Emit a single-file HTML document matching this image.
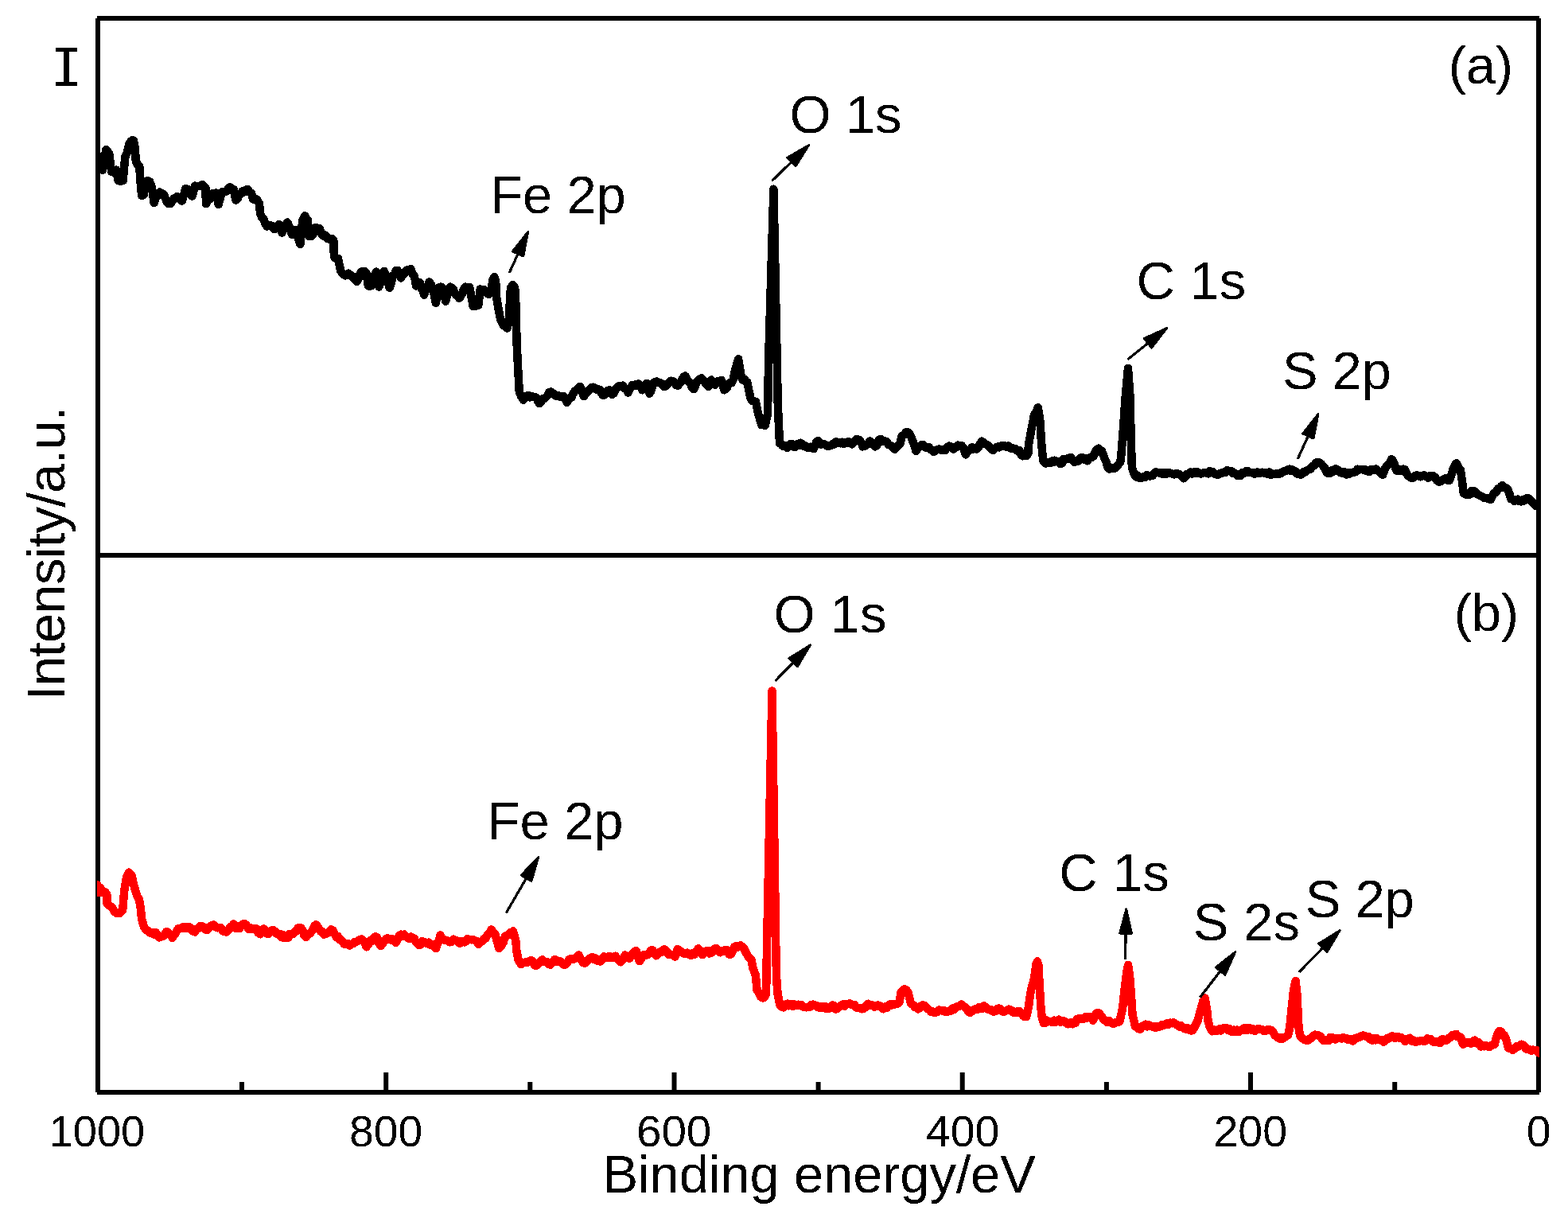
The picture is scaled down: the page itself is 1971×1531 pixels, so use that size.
<!DOCTYPE html>
<html><head><meta charset="utf-8"><title>XPS spectra</title>
<style>html,body{margin:0;padding:0;background:#fff;overflow:hidden}svg{display:block}</style>
</head><body>
<svg width="1971" height="1531" viewBox="0 0 1971 1531">
<rect width="1971" height="1531" fill="#fff"/>
<defs>
<clipPath id="ca"><rect x="122" y="20" width="1813" height="675"/></clipPath>
<clipPath id="cb"><rect x="122" y="701" width="1813" height="669"/></clipPath>
<filter id="crisp" x="0" y="0" width="1971" height="1531" filterUnits="userSpaceOnUse"><feComponentTransfer><feFuncA type="discrete" tableValues="0 1"/></feComponentTransfer></filter>
</defs>
<g fill="#000">
<rect x="120" y="23" width="6" height="1350"/>
<rect x="1931" y="23" width="6" height="1350"/>
<rect x="122" y="20" width="1813" height="6"/>
<rect x="122" y="1370" width="1813" height="6"/>
<rect x="120" y="695" width="1817" height="6"/>
<rect x="301.0" y="1360" width="6" height="12" fill="#000"/><rect x="482.2" y="1348" width="6" height="24" fill="#000"/><rect x="663.3" y="1360" width="6" height="12" fill="#000"/><rect x="844.5" y="1348" width="6" height="24" fill="#000"/><rect x="1025.6" y="1360" width="6" height="12" fill="#000"/><rect x="1206.7" y="1348" width="6" height="24" fill="#000"/><rect x="1387.9" y="1360" width="6" height="12" fill="#000"/><rect x="1569.0" y="1348" width="6" height="24" fill="#000"/><rect x="1750.2" y="1360" width="6" height="12" fill="#000"/>
</g>
<g fill="none" stroke-width="10.5" stroke-linejoin="round" stroke-linecap="round" shape-rendering="crispEdges">
<polyline clip-path="url(#ca)" stroke="#000" points="118.0,196.8 120.3,195.8 122.7,197.0 125.0,196.8 129.0,213.6 133.4,188.1 135.4,190.3 137.3,193.5 140.1,215.8 143.5,216.9 146.3,213.6 148.5,227.0 150.5,227.4 152.6,227.5 154.6,227.0 157.4,196.8 159.6,192.4 162.4,181.2 164.3,178.0 166.2,176.3 168.0,176.7 169.7,185.7 170.8,202.4 173.0,207.1 175.3,209.1 176.4,227.0 178.1,245.9 180.9,244.8 183.1,228.1 185.6,227.1 188.1,228.1 190.9,235.9 193.7,254.9 195.6,248.8 197.6,244.8 200.9,241.5 203.2,244.6 205.4,243.7 207.6,248.6 209.9,253.8 212.1,256.2 214.3,256.0 216.6,252.5 218.8,249.3 220.7,249.5 222.5,247.2 224.4,248.2 226.6,251.0 228.9,252.6 233.3,237.0 236.7,238.1 239.2,243.8 241.7,246.5 245.0,233.7 247.3,234.0 249.5,234.2 252.0,234.1 254.5,232.0 256.5,234.6 258.4,235.9 259.0,256.0 261.2,251.5 263.5,250.4 265.7,247.8 267.9,243.2 269.8,243.5 271.6,242.4 273.5,243.2 274.6,257.1 278.0,244.8 280.2,241.0 282.4,240.9 284.7,240.5 286.9,237.1 289.1,235.3 291.4,237.6 293.6,238.1 296.4,251.5 298.6,249.7 300.8,244.8 302.8,243.5 304.8,240.4 307.0,241.3 309.2,238.5 311.4,238.1 313.7,241.6 315.9,242.6 318.1,250.4 320.4,250.2 322.6,250.4 326.0,256.0 327.1,268.3 329.1,273.2 331.2,274.6 333.4,281.1 335.6,284.6 337.5,283.0 339.3,283.2 341.2,284.6 343.1,284.3 344.9,288.0 346.8,286.9 348.7,284.1 350.7,281.9 352.6,287.7 354.6,292.5 356.8,287.4 359.1,283.9 361.3,279.6 364.6,286.9 366.9,294.7 369.1,291.4 371.3,289.1 373.4,294.5 375.4,301.4 377.5,307.0 380.3,276.8 383.1,271.3 385.0,274.4 387.0,276.8 388.1,296.9 391.4,296.9 393.3,294.8 395.2,290.2 397.0,285.8 399.2,288.0 401.5,286.9 404.8,294.7 407.1,296.7 409.3,295.8 411.5,300.0 413.8,300.3 415.6,301.7 417.5,300.4 419.3,302.5 419.9,322.6 422.4,325.2 424.9,324.8 428.3,340.5 431.6,344.9 433.9,346.4 436.1,345.8 438.3,343.8 440.5,345.8 442.8,347.2 444.6,350.2 446.5,350.5 448.4,353.9 450.2,351.1 452.1,346.0 453.9,341.6 456.2,341.5 458.4,341.3 460.6,343.8 462.9,359.4 464.7,359.7 466.6,359.2 468.5,356.1 470.7,347.2 472.9,341.6 476.3,360.5 478.5,355.2 480.7,347.2 483.0,341.0 485.2,346.5 487.4,354.0 489.7,361.7 491.9,354.9 494.1,346.0 496.0,345.5 497.8,340.1 499.7,339.9 501.9,345.1 504.2,349.4 506.0,344.8 507.9,344.7 509.8,341.0 512.0,339.4 514.2,340.7 516.4,338.2 518.7,344.6 520.9,347.2 523.1,359.4 525.4,357.2 527.6,355.0 529.5,362.2 531.3,364.6 533.2,370.6 535.3,363.6 537.4,360.3 539.5,354.6 542.0,357.8 544.5,364.6 547.9,380.8 551.8,361.3 554.3,360.6 556.8,362.4 560.1,378.6 562.0,372.3 563.9,367.1 565.7,360.7 567.6,361.4 569.4,363.0 571.3,366.9 573.2,371.0 575.0,371.3 576.9,374.7 578.8,373.0 580.8,369.3 582.7,363.7 584.7,360.7 586.6,360.8 588.4,361.2 590.3,361.3 594.7,384.7 597.0,384.9 599.2,384.4 601.4,383.6 603.7,363.5 605.9,364.0 608.1,364.1 610.4,367.1 612.6,369.1 614.8,369.8 617.1,366.9 619.5,352.0 621.4,348.2 623.2,354.0 624.0,373.0 626.3,387.0 629.0,401.0 631.0,405.0 633.0,409.0 635.3,410.5 637.5,412.5 640.3,400.0 640.9,377.0 642.0,362.0 644.6,358.0 647.2,362.0 647.8,374.0 648.7,386.0 649.5,430.0 651.2,463.5 652.8,492.5 655.3,498.4 657.9,502.6 659.9,499.6 662.0,498.0 664.0,497.0 666.1,499.4 668.2,498.2 670.3,498.8 672.4,499.2 674.2,499.9 676.1,504.1 678.0,507.0 679.8,505.5 681.7,501.4 683.5,501.4 685.8,499.7 688.0,497.5 690.2,493.0 692.5,492.5 694.4,494.4 696.4,495.2 698.3,497.4 700.3,498.1 702.2,497.5 704.2,498.9 706.1,499.0 708.1,498.1 710.3,500.1 712.6,505.9 714.5,501.4 716.5,501.0 718.4,499.4 720.4,494.7 722.6,491.5 724.8,490.1 727.1,488.4 729.3,485.8 731.5,491.2 733.8,498.1 735.8,495.3 737.8,492.9 739.8,490.9 741.8,489.5 743.8,486.9 745.8,486.7 747.7,487.6 749.7,489.7 751.6,489.2 753.9,489.9 756.1,494.6 758.3,497.0 760.3,496.2 762.2,492.9 764.2,490.8 766.1,490.3 769.5,495.9 771.7,494.1 773.9,488.9 776.2,486.9 778.4,484.9 780.6,485.2 782.9,484.7 785.1,488.5 787.3,489.1 789.6,493.6 791.4,489.7 793.3,486.6 795.1,484.1 797.1,485.1 799.1,483.1 801.0,484.3 803.0,482.5 805.2,485.0 807.4,490.3 809.3,486.8 811.1,485.3 813.0,481.9 816.4,494.7 818.2,491.6 820.1,485.2 821.9,480.8 823.9,479.8 825.8,479.5 827.8,481.3 829.8,481.3 832.0,482.3 834.2,485.8 836.4,485.4 838.7,483.8 840.9,480.8 843.1,478.7 845.4,479.1 847.6,480.1 849.8,484.1 852.1,484.7 854.0,482.4 856.0,480.2 858.0,475.6 859.9,473.4 861.2,472.5 864.5,479.2 866.5,480.2 868.4,483.3 870.4,487.9 872.3,489.2 875.7,480.3 877.7,477.7 879.8,476.3 881.8,475.3 883.8,477.4 885.7,480.3 888.0,482.7 890.2,485.9 892.1,481.3 894.1,477.5 896.6,482.2 899.1,483.6 901.1,480.9 903.0,478.9 905.0,481.2 906.9,478.0 910.3,490.3 912.1,489.2 914.0,487.1 915.9,482.5 917.7,480.8 919.6,481.3 921.4,478.0 923.7,466.9 928.1,451.3 932.0,474.7 933.9,477.8 935.7,476.4 937.5,479.9 939.3,480.3 941.5,491.4 943.8,501.5 945.8,503.9 947.9,504.4 949.9,504.8 952.7,518.2 954.9,526.1 957.2,533.9 959.4,533.6 961.6,535.0 965.0,520.5 966.1,453.5 972.4,237.7 976.7,453.5 977.8,509.3 980.0,557.3 982.0,558.3 983.9,560.6 985.8,560.3 987.7,560.4 989.5,562.9 991.8,560.7 994.0,557.8 995.8,558.3 997.7,561.7 999.6,561.8 1001.8,558.3 1004.0,560.0 1006.3,556.7 1008.5,558.8 1010.7,561.0 1013.0,560.6 1014.8,562.6 1016.7,563.0 1018.5,561.8 1020.8,563.2 1023.0,564.0 1026.4,555.1 1028.6,554.2 1030.8,558.3 1033.1,558.4 1035.3,557.8 1037.5,559.1 1039.8,560.6 1041.6,560.9 1043.5,560.0 1045.3,559.5 1047.2,557.7 1049.1,558.3 1050.9,555.1 1052.8,556.3 1054.6,555.9 1056.5,557.3 1058.5,555.9 1060.6,557.9 1062.6,555.9 1064.7,556.7 1066.7,555.2 1068.9,556.2 1071.2,558.5 1073.0,555.1 1074.9,554.2 1076.7,551.8 1078.6,554.4 1080.5,553.1 1082.3,555.7 1084.6,561.3 1086.8,560.8 1089.0,559.6 1091.3,557.5 1093.5,554.6 1096.8,558.0 1100.2,561.3 1102.4,559.4 1104.6,553.0 1106.9,551.8 1108.7,553.3 1110.6,555.1 1112.5,554.6 1114.7,555.0 1116.9,559.1 1118.9,559.5 1120.8,560.9 1122.8,563.4 1124.7,564.6 1127.0,562.1 1129.2,560.1 1131.4,558.0 1133.7,547.9 1136.2,546.8 1138.7,543.4 1140.7,542.9 1142.8,544.6 1144.8,547.9 1148.2,556.8 1151.5,566.9 1153.8,563.4 1156.0,561.5 1158.2,559.3 1160.5,559.1 1162.3,562.1 1164.2,562.7 1166.0,562.4 1168.0,562.2 1169.9,565.2 1171.9,565.9 1173.9,568.0 1176.1,566.1 1178.3,565.2 1180.5,564.6 1182.5,565.5 1184.5,565.6 1186.4,564.9 1188.4,565.8 1190.6,562.0 1192.8,560.7 1194.7,561.4 1196.5,561.8 1198.4,564.6 1200.3,563.2 1202.1,562.2 1204.0,559.6 1206.2,560.1 1208.5,559.8 1210.7,562.4 1214.0,571.3 1216.0,567.8 1217.9,566.4 1219.9,565.1 1221.8,562.4 1223.7,564.3 1225.6,563.4 1227.4,564.6 1229.7,562.5 1231.9,558.4 1234.1,554.6 1236.4,556.0 1238.6,558.0 1240.8,559.1 1243.1,561.3 1244.9,562.8 1246.8,565.1 1248.6,565.8 1252.0,562.4 1253.8,561.7 1255.7,562.4 1257.6,561.1 1259.4,559.9 1261.3,560.7 1263.1,560.2 1265.4,562.1 1267.6,560.7 1269.8,563.5 1272.1,563.5 1274.4,563.7 1276.7,564.2 1278.9,566.6 1281.2,565.9 1283.4,571.3 1285.6,573.2 1287.9,571.7 1290.1,572.9 1292.3,570.4 1292.9,559.2 1296.8,538.0 1300.1,521.3 1302.5,518.0 1304.8,512.3 1307.4,529.1 1309.1,557.0 1311.3,579.3 1314.6,582.6 1316.5,581.5 1318.4,582.1 1320.2,582.1 1322.1,579.5 1323.9,581.1 1325.8,578.7 1328.0,580.2 1330.3,580.4 1332.5,583.1 1334.7,582.6 1337.0,577.1 1339.2,577.7 1341.4,576.6 1343.7,576.3 1345.9,574.8 1348.1,578.2 1350.4,581.0 1352.2,578.8 1354.1,580.2 1355.9,579.3 1357.8,576.0 1359.7,575.3 1361.5,575.4 1363.4,577.8 1365.2,576.2 1367.1,579.3 1369.0,576.2 1370.8,574.7 1372.7,574.8 1374.9,573.0 1377.2,566.8 1379.4,564.8 1381.2,563.6 1383.1,567.6 1385.0,567.0 1388.3,575.9 1390.5,580.6 1392.8,588.2 1394.6,589.6 1396.5,588.9 1398.4,588.2 1400.2,588.8 1402.1,588.5 1403.9,586.0 1406.2,583.5 1408.4,580.4 1409.5,570.4 1412.3,534.6 1414.5,501.2 1418.0,463.0 1420.7,501.2 1421.5,545.8 1422.9,588.2 1426.3,597.2 1428.1,599.5 1430.0,597.5 1431.8,600.5 1433.7,601.2 1435.6,599.8 1437.4,599.4 1439.7,599.9 1441.9,597.1 1444.1,598.3 1446.4,598.3 1448.6,598.1 1450.8,595.5 1453.1,593.3 1455.3,593.9 1457.5,594.5 1459.8,593.8 1461.6,595.9 1463.5,594.3 1465.3,596.0 1467.6,594.4 1469.8,594.3 1472.0,594.9 1474.0,595.6 1476.0,596.4 1478.1,595.2 1480.1,595.3 1482.1,596.0 1484.0,597.4 1485.9,598.9 1487.8,601.3 1490.0,599.0 1492.3,595.7 1494.5,595.4 1496.7,593.5 1498.6,595.6 1500.5,593.5 1502.3,595.0 1504.2,592.9 1506.0,595.2 1507.9,594.6 1509.7,595.5 1511.5,595.0 1513.3,594.3 1515.2,594.0 1517.0,594.5 1518.8,595.4 1520.6,592.2 1522.4,593.5 1524.6,593.0 1526.9,595.7 1529.1,596.4 1531.3,596.8 1533.6,594.9 1535.8,594.6 1538.0,593.7 1540.3,594.1 1542.5,591.3 1544.7,591.8 1546.6,591.9 1548.5,592.7 1550.3,595.2 1552.2,595.2 1554.0,595.9 1555.9,598.0 1557.9,597.7 1560.0,597.7 1562.0,594.1 1564.1,594.7 1566.1,592.5 1568.2,591.8 1570.4,594.2 1572.6,594.1 1574.9,593.8 1577.1,595.7 1578.9,594.4 1580.7,593.5 1582.5,595.2 1584.4,594.7 1586.2,593.7 1588.0,594.3 1589.8,594.0 1591.6,594.6 1593.5,595.9 1595.3,593.5 1597.2,597.1 1599.1,595.3 1600.9,595.9 1602.8,595.7 1605.0,595.0 1607.2,595.9 1609.5,595.3 1611.7,593.5 1613.9,592.7 1616.2,591.5 1618.4,591.4 1620.6,589.6 1622.6,591.7 1624.5,590.6 1626.5,592.6 1628.5,592.4 1630.7,595.7 1632.9,595.2 1635.1,596.8 1637.1,594.4 1639.1,593.0 1641.0,593.5 1643.0,591.3 1645.2,590.1 1647.4,589.4 1649.7,585.7 1651.9,585.6 1654.1,581.7 1656.4,581.2 1658.6,581.5 1660.8,583.2 1663.1,585.7 1664.9,587.4 1666.8,592.4 1668.6,594.6 1670.5,595.2 1672.4,594.5 1674.2,591.1 1676.1,592.7 1677.9,589.7 1679.8,589.6 1682.0,590.9 1684.3,593.8 1686.5,594.6 1688.5,593.1 1690.4,593.3 1692.4,596.5 1694.4,594.5 1696.3,595.5 1698.5,594.1 1700.6,594.1 1702.7,593.0 1704.6,593.0 1706.5,589.7 1708.4,590.4 1710.3,590.2 1712.2,589.8 1714.1,590.6 1716.0,590.3 1717.9,592.3 1719.8,592.1 1721.7,592.9 1723.6,590.0 1725.5,589.8 1727.4,590.6 1729.3,589.6 1731.2,590.8 1733.1,592.3 1735.7,595.2 1738.2,596.8 1740.7,589.5 1743.3,585.4 1745.2,584.2 1747.1,581.5 1749.0,577.1 1751.2,579.6 1753.4,585.4 1754.7,590.4 1756.6,592.2 1758.5,589.9 1760.4,591.5 1762.3,591.5 1764.2,589.6 1766.1,590.4 1768.0,595.0 1769.9,598.1 1772.0,599.5 1774.1,601.0 1776.3,600.6 1778.8,598.1 1781.3,597.4 1783.5,598.4 1785.8,599.3 1788.0,598.1 1790.2,597.4 1792.7,599.1 1795.3,600.6 1797.4,598.2 1799.5,598.9 1801.6,598.1 1803.9,600.0 1806.3,604.0 1808.6,605.7 1810.9,605.1 1813.2,603.4 1815.6,601.9 1817.7,601.2 1819.8,603.7 1821.9,603.8 1824.1,597.6 1826.4,590.4 1828.6,585.0 1830.8,582.2 1833.3,587.9 1835.9,590.4 1838.4,608.2 1839.7,619.6 1842.2,621.5 1844.7,622.2 1846.6,619.4 1848.5,621.3 1850.5,616.9 1852.4,617.1 1854.6,618.0 1856.8,621.1 1859.0,622.2 1861.2,623.4 1863.3,624.5 1865.5,625.7 1867.6,626.0 1869.7,626.4 1871.8,626.5 1873.9,627.9 1876.1,623.2 1878.4,619.5 1880.6,618.7 1882.8,614.5 1884.7,614.1 1886.6,611.8 1888.5,610.1 1890.8,613.0 1893.2,613.3 1895.5,615.8 1897.4,620.6 1899.3,627.2 1901.4,627.4 1903.5,630.0 1905.6,629.1 1907.7,627.7 1909.9,630.0 1912.0,630.4 1914.2,628.3 1916.4,629.3 1918.6,626.5 1920.8,626.0 1922.7,627.2 1924.7,629.4 1926.6,631.8 1928.5,633.6 1930.6,635.9 1932.7,635.5 1934.8,637.4"/>
<polyline clip-path="url(#cb)" stroke="#f00" points="121.5,1112.4 122.3,1112.4 124.2,1121.6 126.1,1115.7 128.1,1122.2 130.0,1120.3 132.6,1121.6 134.3,1124.2 134.6,1135.9 137.2,1137.9 139.2,1139.7 141.1,1140.5 143.7,1145.7 147.0,1148.0 150.6,1148.0 154.2,1143.8 156.3,1119.1 159.1,1102.3 161.9,1096.7 165.5,1100.0 168.0,1112.0 171.0,1122.0 173.0,1127.5 175.1,1131.0 176.9,1141.9 178.0,1155.0 181.0,1165.1 183.5,1168.7 186.0,1170.0 188.0,1172.4 190.0,1172.3 192.0,1172.0 194.0,1174.8 196.0,1172.4 198.0,1175.3 200.1,1178.3 202.1,1177.7 204.3,1176.7 206.5,1176.2 208.8,1171.5 211.0,1171.5 212.9,1173.8 214.7,1175.4 216.6,1178.8 218.4,1176.2 220.3,1173.5 222.2,1170.4 224.0,1167.3 225.9,1167.0 227.7,1167.1 229.6,1165.4 231.5,1167.2 233.3,1164.8 235.5,1166.6 237.8,1165.0 240.0,1167.1 242.5,1170.5 245.0,1171.5 247.1,1167.7 249.1,1167.2 251.2,1164.3 253.4,1164.1 255.6,1164.9 257.9,1168.2 260.1,1169.1 262.3,1167.1 264.6,1164.4 266.8,1162.9 269.0,1162.6 271.3,1165.6 273.5,1166.3 275.7,1165.9 278.0,1166.5 280.2,1170.6 282.4,1170.3 284.7,1171.5 286.9,1169.7 289.1,1165.3 291.4,1165.8 293.6,1161.5 295.4,1164.1 297.3,1167.1 299.2,1167.1 301.1,1167.1 303.1,1163.2 305.0,1161.9 307.0,1160.9 308.8,1162.0 310.7,1164.3 312.6,1168.2 314.5,1166.2 316.5,1166.8 318.4,1167.8 320.4,1167.1 322.6,1167.5 324.8,1172.6 327.1,1174.3 329.1,1170.2 331.2,1167.4 333.4,1169.7 335.6,1173.5 337.6,1173.7 339.5,1171.2 341.5,1169.4 343.4,1169.1 345.7,1170.9 347.9,1173.6 350.1,1174.6 352.1,1173.8 354.2,1178.3 356.2,1175.4 358.2,1179.2 360.2,1179.1 362.4,1178.8 364.6,1173.8 366.9,1174.1 368.7,1173.9 370.6,1170.9 372.5,1170.5 374.3,1166.9 376.2,1165.8 378.0,1166.3 380.3,1168.9 382.5,1175.9 384.7,1178.0 386.8,1174.2 388.8,1173.8 390.9,1171.9 392.9,1169.3 395.0,1164.4 397.0,1162.4 399.0,1164.2 401.0,1167.4 403.0,1170.8 405.1,1170.6 407.1,1174.6 409.3,1174.1 411.5,1172.8 413.8,1171.5 416.0,1168.5 418.2,1169.2 420.5,1173.5 422.7,1177.9 424.9,1177.1 427.2,1181.3 429.1,1182.0 431.1,1184.3 433.0,1186.8 435.0,1186.4 437.2,1185.9 439.4,1188.4 441.7,1186.9 443.9,1186.0 446.1,1183.9 448.4,1183.6 450.3,1182.4 452.3,1181.4 454.2,1180.6 456.2,1181.9 458.4,1184.7 460.6,1190.3 462.9,1187.1 465.1,1182.5 467.3,1183.3 469.6,1178.9 471.8,1177.3 474.0,1178.0 476.3,1185.5 478.5,1189.2 480.7,1186.3 483.0,1182.8 485.2,1180.2 487.1,1179.2 489.1,1180.6 491.1,1181.5 493.0,1180.2 495.2,1182.3 497.5,1184.7 499.7,1181.0 501.9,1176.2 504.2,1174.6 506.1,1177.1 508.1,1174.5 510.0,1177.1 512.0,1178.0 514.2,1179.8 516.4,1177.4 518.7,1180.2 520.9,1179.7 522.8,1184.3 524.6,1185.8 526.5,1188.0 528.4,1187.7 530.2,1183.5 532.1,1183.6 534.4,1184.4 536.7,1185.8 538.9,1184.7 541.2,1187.9 543.4,1186.9 545.6,1188.7 547.9,1192.2 549.7,1186.5 551.6,1183.1 553.4,1175.5 555.3,1178.8 557.2,1181.3 559.0,1181.3 561.0,1181.8 562.9,1182.6 564.9,1184.3 566.8,1184.1 570.2,1180.7 572.1,1181.9 574.1,1182.4 576.0,1184.1 578.0,1185.8 580.0,1183.2 582.0,1183.0 584.0,1184.4 586.0,1183.1 588.0,1180.2 590.3,1181.2 592.5,1181.3 594.7,1181.2 597.0,1182.4 599.2,1183.0 601.4,1186.9 603.7,1183.7 605.9,1183.5 608.1,1180.2 610.4,1179.4 612.6,1175.2 614.8,1173.5 617.6,1168.5 620.1,1172.7 622.6,1174.6 627.1,1191.9 629.0,1190.6 630.8,1187.8 632.7,1184.6 634.9,1176.8 636.9,1176.2 638.9,1175.3 640.9,1172.4 643.0,1172.5 645.0,1170.4 648.3,1182.4 649.4,1195.8 651.7,1207.0 655.0,1212.0 657.2,1210.2 659.5,1210.1 661.7,1209.2 663.6,1209.5 665.4,1208.5 667.3,1207.0 669.5,1208.4 671.8,1213.2 674.0,1213.7 675.8,1212.4 677.7,1210.3 679.6,1208.1 681.8,1206.5 684.0,1209.0 686.3,1209.2 688.1,1209.3 690.0,1212.1 691.8,1212.6 693.7,1210.2 695.6,1209.4 697.4,1205.9 699.3,1207.2 701.1,1208.5 703.0,1208.1 705.2,1209.2 707.5,1212.0 709.7,1213.1 711.6,1211.6 713.4,1209.6 715.3,1205.9 717.5,1205.0 719.8,1205.3 721.7,1205.5 723.7,1204.4 725.6,1202.5 727.6,1200.5 730.9,1207.0 732.8,1209.8 734.6,1210.7 736.5,1209.8 738.4,1208.0 740.2,1206.2 742.1,1204.2 744.4,1203.0 746.6,1205.8 748.9,1204.6 750.8,1207.7 752.7,1207.1 754.5,1208.5 756.7,1206.2 759.0,1202.4 761.2,1203.5 763.4,1203.8 765.7,1201.9 767.9,1203.5 769.8,1204.0 771.6,1202.7 773.5,1201.8 775.7,1205.0 778.0,1206.5 780.2,1209.3 782.0,1206.8 783.9,1204.5 785.8,1200.5 787.6,1202.4 789.5,1204.1 791.3,1204.6 793.6,1199.9 795.8,1199.0 797.8,1195.8 799.7,1195.3 801.7,1201.5 803.6,1208.2 805.5,1206.1 807.3,1201.7 809.2,1200.1 811.4,1200.9 813.7,1200.1 815.9,1198.7 818.1,1194.4 820.4,1194.3 822.6,1197.7 824.8,1201.3 827.1,1198.7 829.3,1196.5 831.5,1196.8 834.9,1193.2 836.7,1194.1 838.6,1197.1 840.5,1200.1 842.4,1199.5 844.4,1200.1 846.3,1200.1 848.3,1202.6 851.6,1193.2 853.9,1194.6 856.1,1195.9 858.3,1197.9 860.3,1198.6 862.2,1198.8 864.2,1197.7 866.1,1199.0 868.4,1201.0 870.6,1197.8 872.8,1200.1 875.3,1195.9 877.8,1192.3 880.4,1195.3 882.9,1200.1 885.1,1197.5 887.3,1195.7 889.6,1194.9 891.8,1198.5 894.0,1197.9 896.3,1195.5 898.5,1192.3 900.7,1192.3 903.0,1195.3 905.2,1197.3 907.1,1194.9 909.1,1195.9 911.1,1194.2 913.0,1194.0 914.9,1196.2 916.7,1199.6 918.6,1199.6 920.8,1196.1 923.1,1190.1 925.0,1189.3 927.0,1190.5 928.9,1189.4 930.9,1188.4 932.7,1189.9 934.6,1191.1 936.4,1194.6 939.8,1201.3 942.0,1203.9 944.3,1205.7 946.5,1216.9 949.8,1225.8 951.6,1244.7 954.0,1248.2 956.4,1253.0 958.8,1254.4 961.0,1253.6 963.1,1249.0 963.5,1220.3 964.0,1191.6 970.5,868.4 975.3,1191.6 976.0,1227.5 977.5,1249.0 980.4,1263.4 982.5,1265.3 984.7,1266.3 987.2,1263.4 989.7,1261.6 991.9,1264.3 994.0,1261.8 996.2,1264.9 998.6,1262.6 1001.0,1263.7 1003.4,1262.7 1005.5,1264.1 1007.7,1263.2 1009.8,1265.6 1013.4,1266.3 1015.6,1265.9 1017.7,1266.1 1019.9,1263.1 1022.0,1262.7 1024.2,1263.6 1026.3,1264.0 1028.5,1266.3 1030.7,1265.0 1032.8,1267.2 1035.0,1264.9 1037.0,1265.0 1039.1,1268.0 1041.2,1266.8 1043.0,1267.4 1044.9,1265.0 1046.7,1263.5 1048.6,1264.0 1050.5,1268.4 1052.3,1268.0 1054.2,1266.4 1056.0,1264.6 1057.9,1263.5 1059.9,1262.3 1061.8,1264.6 1063.8,1262.2 1065.7,1261.8 1068.0,1261.5 1070.2,1262.8 1072.4,1263.5 1074.3,1263.1 1076.1,1266.2 1078.0,1266.8 1079.9,1267.1 1081.7,1267.0 1083.6,1268.3 1085.4,1267.8 1087.3,1266.4 1089.2,1263.5 1091.1,1261.7 1093.1,1263.9 1095.0,1263.0 1097.0,1264.0 1099.2,1265.6 1101.4,1264.8 1103.7,1263.5 1105.9,1264.1 1108.1,1265.8 1110.4,1268.3 1112.6,1265.3 1114.8,1267.0 1117.1,1263.5 1119.0,1262.4 1121.0,1263.4 1122.9,1262.5 1124.9,1262.4 1126.7,1262.2 1128.6,1261.3 1130.5,1260.1 1132.7,1246.7 1134.6,1246.0 1136.6,1243.4 1139.1,1244.1 1141.6,1247.9 1145.0,1261.3 1148.3,1263.5 1150.2,1266.2 1152.0,1266.0 1153.9,1268.5 1155.8,1267.0 1157.6,1264.5 1159.5,1263.5 1161.7,1263.8 1163.9,1265.7 1166.2,1268.0 1168.4,1269.9 1170.6,1272.2 1172.6,1271.6 1174.5,1273.0 1176.5,1272.3 1178.5,1271.9 1180.4,1269.6 1182.4,1270.0 1184.3,1270.4 1186.3,1270.2 1188.5,1272.0 1190.7,1272.0 1193.0,1270.8 1195.2,1270.7 1197.1,1267.5 1198.9,1269.2 1200.8,1266.8 1202.7,1265.4 1204.7,1264.9 1206.6,1264.3 1208.6,1262.4 1210.8,1264.6 1213.1,1265.7 1215.3,1268.0 1217.5,1272.1 1219.8,1272.7 1222.0,1270.7 1224.2,1269.1 1226.4,1268.0 1228.5,1269.0 1230.5,1266.0 1232.6,1266.0 1234.6,1267.8 1236.7,1264.4 1238.7,1265.7 1240.5,1268.2 1242.4,1268.8 1244.2,1268.9 1246.0,1269.5 1247.8,1271.5 1250.0,1271.3 1252.3,1270.5 1254.5,1267.6 1256.7,1267.6 1259.0,1270.5 1261.2,1272.0 1263.4,1271.1 1265.7,1269.8 1267.9,1268.7 1269.8,1269.3 1271.6,1269.9 1273.5,1272.6 1275.3,1272.6 1277.2,1273.1 1279.1,1271.5 1280.9,1270.9 1282.8,1272.6 1284.6,1274.8 1286.5,1277.2 1288.4,1278.1 1290.2,1278.0 1293.1,1265.0 1295.0,1250.1 1297.0,1240.0 1299.5,1232.0 1301.2,1222.0 1302.5,1212.0 1304.0,1208.5 1305.5,1214.0 1306.0,1225.0 1306.7,1238.0 1307.6,1253.0 1308.5,1268.0 1310.0,1280.0 1312.0,1286.0 1314.0,1285.9 1316.1,1282.6 1318.1,1283.8 1320.4,1284.3 1322.6,1284.9 1324.8,1282.6 1326.8,1284.9 1328.8,1283.9 1330.9,1281.5 1332.9,1284.9 1334.9,1283.8 1336.7,1283.0 1338.6,1285.1 1340.5,1284.9 1342.4,1287.3 1344.4,1287.0 1346.3,1285.3 1348.3,1287.4 1350.2,1284.9 1352.2,1285.6 1354.1,1280.8 1356.1,1280.4 1358.3,1280.9 1360.5,1280.1 1362.8,1280.4 1364.6,1278.3 1366.5,1279.4 1368.4,1278.2 1370.2,1277.8 1372.1,1279.6 1373.9,1282.6 1376.2,1277.5 1378.4,1273.4 1380.3,1272.9 1382.1,1274.1 1384.0,1277.1 1385.8,1279.2 1387.7,1281.8 1389.6,1282.6 1391.8,1285.1 1394.0,1283.0 1396.3,1285.4 1399.6,1287.1 1401.6,1286.0 1403.5,1284.7 1405.5,1285.0 1407.4,1283.8 1411.0,1268.0 1413.5,1245.0 1416.0,1224.0 1418.1,1213.0 1420.0,1226.1 1422.0,1251.9 1423.5,1275.1 1427.0,1290.0 1429.0,1291.5 1431.0,1293.0 1433.2,1293.6 1435.4,1290.1 1437.6,1289.3 1439.8,1287.7 1442.0,1290.4 1444.3,1288.4 1446.5,1289.9 1448.5,1290.5 1450.6,1290.1 1452.6,1291.8 1454.7,1290.5 1456.7,1290.4 1458.7,1290.3 1460.6,1288.3 1462.6,1288.9 1464.5,1288.2 1466.7,1286.3 1469.0,1287.5 1471.2,1285.6 1473.2,1286.3 1475.1,1285.4 1477.1,1286.5 1479.0,1288.2 1481.0,1288.5 1482.9,1290.8 1484.9,1289.4 1486.8,1291.5 1488.8,1293.1 1490.7,1293.5 1492.7,1292.0 1494.6,1294.3 1496.9,1295.4 1499.1,1295.2 1502.5,1289.3 1505.5,1283.0 1510.1,1266.0 1512.3,1258.6 1514.5,1254.5 1517.0,1268.0 1518.5,1283.0 1520.9,1291.5 1523.7,1296.3 1525.9,1294.5 1528.1,1296.1 1530.4,1295.4 1532.5,1293.7 1534.6,1295.6 1536.7,1293.3 1538.8,1292.0 1541.0,1292.1 1543.0,1294.6 1545.1,1292.8 1547.1,1296.0 1549.0,1297.1 1550.8,1294.6 1552.7,1296.5 1554.9,1294.6 1557.2,1297.2 1559.4,1294.9 1561.2,1295.2 1563.1,1292.9 1565.0,1292.0 1566.8,1295.0 1568.7,1293.3 1570.5,1292.2 1572.4,1294.6 1574.3,1292.9 1576.1,1295.4 1578.1,1295.5 1580.0,1294.0 1582.0,1293.1 1583.9,1293.8 1586.2,1293.8 1588.4,1295.7 1590.6,1296.0 1592.9,1294.3 1595.1,1293.8 1597.0,1294.8 1598.8,1295.3 1600.7,1298.2 1602.5,1301.5 1604.4,1302.8 1606.3,1304.1 1608.2,1305.4 1610.2,1304.0 1612.1,1305.7 1614.1,1304.4 1616.6,1302.8 1619.1,1301.0 1621.2,1292.0 1623.2,1272.0 1626.0,1245.0 1628.6,1233.0 1630.5,1250.0 1631.5,1272.0 1632.5,1292.0 1634.1,1302.0 1636.0,1304.1 1638.0,1305.7 1640.0,1307.0 1642.0,1307.5 1644.2,1307.6 1646.4,1305.4 1648.7,1304.9 1650.9,1302.1 1653.1,1300.6 1655.4,1301.2 1657.6,1301.6 1659.8,1302.6 1662.1,1306.0 1664.2,1308.1 1666.4,1307.0 1668.5,1307.6 1670.4,1307.7 1672.3,1303.8 1674.2,1304.8 1676.3,1304.7 1678.5,1306.4 1680.6,1305.3 1682.7,1304.8 1684.6,1304.9 1686.5,1305.4 1688.4,1304.3 1690.3,1304.8 1692.2,1305.2 1694.1,1306.9 1696.2,1306.4 1698.4,1306.5 1700.5,1308.5 1702.6,1306.9 1704.4,1304.8 1706.3,1304.5 1708.1,1303.9 1709.9,1302.7 1711.8,1302.5 1713.6,1301.6 1715.4,1302.0 1717.8,1303.3 1720.1,1302.9 1722.5,1306.2 1724.6,1307.7 1726.8,1305.3 1728.9,1307.4 1731.0,1305.5 1733.0,1306.8 1735.0,1307.3 1737.0,1307.1 1739.0,1309.6 1741.0,1308.4 1743.3,1305.1 1745.7,1305.5 1748.1,1303.1 1750.0,1302.5 1751.9,1304.4 1753.8,1304.9 1755.7,1302.9 1757.5,1303.3 1759.4,1304.8 1761.8,1304.3 1764.2,1306.6 1766.5,1309.1 1768.4,1306.0 1770.3,1305.8 1772.2,1304.8 1774.6,1308.4 1777.0,1307.6 1779.3,1309.8 1781.5,1308.7 1783.6,1308.9 1785.7,1307.8 1787.9,1308.4 1790.0,1308.8 1792.1,1308.2 1794.2,1305.4 1796.4,1306.2 1798.3,1305.8 1800.2,1308.1 1802.1,1309.8 1804.0,1309.2 1805.8,1308.9 1807.7,1309.8 1809.9,1311.1 1812.0,1306.7 1814.1,1306.4 1816.3,1307.6 1818.6,1307.6 1821.0,1304.9 1823.4,1304.1 1825.7,1300.9 1828.1,1301.4 1830.5,1299.8 1832.4,1303.2 1834.3,1302.7 1836.2,1304.1 1839.0,1312.6 1841.1,1311.7 1843.3,1310.3 1845.4,1309.8 1847.5,1311.2 1849.6,1311.6 1851.8,1308.8 1853.9,1307.6 1855.9,1311.3 1857.8,1309.8 1859.8,1312.5 1861.7,1315.5 1863.7,1313.8 1865.7,1315.3 1867.7,1314.1 1869.7,1315.0 1871.7,1316.2 1874.0,1314.6 1876.4,1313.0 1878.8,1312.6 1880.9,1303.7 1883.0,1298.4 1885.2,1295.9 1887.3,1297.0 1889.2,1301.7 1891.1,1301.4 1893.0,1305.5 1895.8,1316.9 1897.7,1317.9 1899.6,1318.4 1901.5,1319.7 1903.9,1318.4 1906.2,1315.2 1908.6,1315.5 1910.5,1314.1 1912.4,1312.7 1914.3,1313.6 1916.2,1315.3 1918.1,1318.4 1920.0,1318.3 1922.3,1319.2 1924.7,1320.7 1927.1,1319.7 1929.4,1319.8 1931.8,1320.2 1934.2,1323.3 1936.3,1324.1 1938.4,1324.7"/>
</g>
<g filter="url(#crisp)">
<line x1="970.3" y1="227.3" x2="997.7" y2="200.9" stroke="#000" stroke-width="3.2"/><polygon points="1017.1,182.1 1000.1,209.1 989.5,198.2" fill="#000" stroke="#000" stroke-width="2.6" stroke-linejoin="round"/><line x1="640.1" y1="343.1" x2="652.7" y2="315.6" stroke="#000" stroke-width="3.2"/><polygon points="663.9,291.0 657.9,322.3 644.1,316.0" fill="#000" stroke="#000" stroke-width="2.6" stroke-linejoin="round"/><line x1="1417.2" y1="451.9" x2="1445.9" y2="429.0" stroke="#000" stroke-width="3.2"/><polygon points="1467.0,412.1 1447.5,437.4 1438.0,425.5" fill="#000" stroke="#000" stroke-width="2.6" stroke-linejoin="round"/><line x1="1631.1" y1="577.1" x2="1646.0" y2="544.5" stroke="#000" stroke-width="3.2"/><polygon points="1657.2,520.0 1651.2,551.3 1637.4,545.0" fill="#000" stroke="#000" stroke-width="2.6" stroke-linejoin="round"/><line x1="974.5" y1="855.8" x2="999.9" y2="829.9" stroke="#000" stroke-width="3.2"/><polygon points="1018.8,810.6 1002.5,838.1 991.7,827.4" fill="#000" stroke="#000" stroke-width="2.6" stroke-linejoin="round"/><line x1="636.1" y1="1147.7" x2="663.5" y2="1100.6" stroke="#000" stroke-width="3.2"/><polygon points="677.0,1077.2 668.0,1107.8 654.9,1100.2" fill="#000" stroke="#000" stroke-width="2.6" stroke-linejoin="round"/><line x1="1414.5" y1="1206.1" x2="1415.2" y2="1169.4" stroke="#000" stroke-width="3.2"/><polygon points="1415.7,1142.4 1422.7,1173.5 1407.5,1173.3" fill="#000" stroke="#000" stroke-width="2.6" stroke-linejoin="round"/><line x1="1508.5" y1="1253.5" x2="1536.4" y2="1217.5" stroke="#000" stroke-width="3.2"/><polygon points="1553.0,1196.2 1540.0,1225.4 1528.0,1216.0" fill="#000" stroke="#000" stroke-width="2.6" stroke-linejoin="round"/><line x1="1633.0" y1="1222.0" x2="1665.5" y2="1188.7" stroke="#000" stroke-width="3.2"/><polygon points="1684.4,1169.3 1668.2,1196.8 1657.3,1186.2" fill="#000" stroke="#000" stroke-width="2.6" stroke-linejoin="round"/>
<g font-family='"Liberation Sans", Arial, sans-serif' fill="#000">
<text x="1820.75" y="105.30" font-size="67.0" textLength="81.31" lengthAdjust="spacing">(a)</text>
<text x="992.53" y="167.00" font-size="67.0" textLength="140.99" lengthAdjust="spacing">O 1s</text>
<text x="616.30" y="267.80" font-size="67.0" textLength="170.41" lengthAdjust="spacing">Fe 2p</text>
<text x="1428.60" y="375.80" font-size="67.0" textLength="137.72" lengthAdjust="spacing">C 1s</text>
<text x="1611.96" y="488.90" font-size="67.0" textLength="136.86" lengthAdjust="spacing">S 2p</text>
<text x="1827.75" y="792.90" font-size="67.0" textLength="81.41" lengthAdjust="spacing">(b)</text>
<text x="972.53" y="794.70" font-size="67.0" textLength="141.89" lengthAdjust="spacing">O 1s</text>
<text x="612.50" y="1054.70" font-size="67.0" textLength="171.11" lengthAdjust="spacing">Fe 2p</text>
<text x="1331.20" y="1119.70" font-size="67.0" textLength="138.52" lengthAdjust="spacing">C 1s</text>
<text x="1499.66" y="1181.80" font-size="67.0" textLength="134.46" lengthAdjust="spacing">S 2s</text>
<text x="1640.86" y="1153.00" font-size="67.0" textLength="136.86" lengthAdjust="spacing">S 2p</text>
<text x="757.40" y="1499.10" font-size="67.0" textLength="544.49" lengthAdjust="spacing">Binding energy/eV</text>
<text transform="translate(65.80,1440.6) scale(0.9755,1)" x="-4.23" y="0" font-size="55.5">1000</text>
<text transform="translate(441.43,1440.6) scale(0.9941,1)" x="-2.41" y="0" font-size="55.5">800</text>
<text transform="translate(802.81,1440.6) scale(1.0193,1)" x="-2.82" y="0" font-size="55.5">600</text>
<text transform="translate(1165.24,1440.6) scale(0.9982,1)" x="-1.27" y="0" font-size="55.5">400</text>
<text transform="translate(1528.17,1440.6) scale(1.0007,1)" x="-2.79" y="0" font-size="55.5">200</text>
<text transform="translate(1921.03,1440.6) scale(1.0000,1)" x="-2.17" y="0" font-size="55.5">0</text>
<g transform="translate(81.2,874.0) rotate(-90)"><text x="-6.18" y="0.00" font-size="67.0" textLength="369.60" lengthAdjust="spacing">Intensity/a.u.</text></g>
</g>
<text x="63.60" y="107.8" font-family="'DejaVu Sans Mono', monospace" font-size="66.3">I</text>
</g>
</svg>
</body></html>
